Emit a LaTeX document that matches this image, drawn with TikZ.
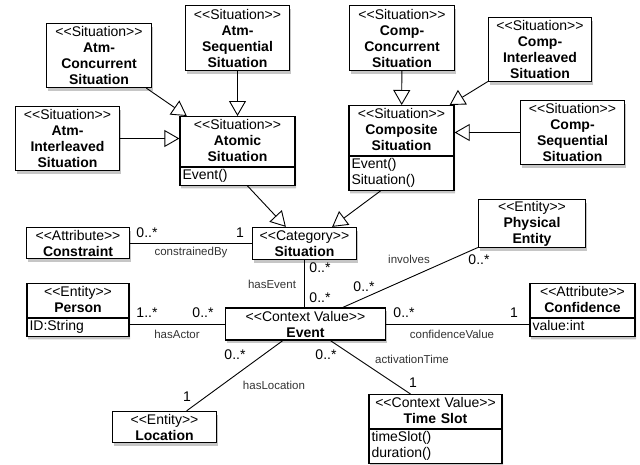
\documentclass[tikz,border=0pt]{standalone}
\usepackage{fontspec}
\setmainfont{Liberation Sans}
\usetikzlibrary{calc, arrows.meta, shapes.multipart, shadows}

\newcommand{\stereo}[1]{<{}<#1>{}>}
\newcommand{\members}[1]{\parbox{\hsize}{\raggedright\strut #1\strut}}

\begin{document}
\begin{tikzpicture}[x=1pt,y=-1pt,
	box/.style={draw, line width=1.3pt, fill=white, align=center, inner sep=1pt, font=\fontsize{14}{16}\selectfont, drop shadow={shadow xshift=1.2pt, shadow yshift=-3pt, opacity=.45}},
	cls/.style={box, minimum width=#1},
	splitcls/.style={box, rectangle split, rectangle split parts=2, text width=#1, inner xsep=2.5pt, inner ysep=0.5pt},
	gen/.style={line width=0.9pt, -{Triangle[length=15pt, width=17pt, fill=white, line width=0.9pt]}},
	assoc/.style={line width=0.9pt},
	mult/.style={font=\fontsize{14}{16}\selectfont, inner sep=0pt},
	role/.style={font=\fontsize{11.5}{13}\selectfont, text=black!80, inner sep=0pt}]
	\useasboundingbox (0,0) rectangle (640,464);

	% situation hierarchy
	\node[cls=105pt, minimum height=64pt] (atmconc) at (99,55.5) {\stereo{Situation}\\\textbf{Atm-}\\\textbf{Concurrent}\\\textbf{Situation}};
	\node[cls=104pt, minimum height=65pt] (atmseq) at (237.5,38) {\stereo{Situation}\\\textbf{Atm-}\\\textbf{Sequential}\\\textbf{Situation}};
	\node[cls=104pt, minimum height=64pt] (atminter) at (67.5,138.5) {\stereo{Situation}\\\textbf{Atm-}\\\textbf{Interleaved}\\\textbf{Situation}};
	\node[splitcls=110pt, anchor=north] (atomic) at (237.5,116) {\strut\stereo{Situation}\\\textbf{Atomic}\\\textbf{Situation}\strut\nodepart{two}\members{Event()}};
	\node[cls=105pt, minimum height=65pt] (compconc) at (402,38) {\stereo{Situation}\\\textbf{Comp-}\\\textbf{Concurrent}\\\textbf{Situation}};
	\node[cls=103pt, minimum height=64pt] (compinter) at (540,49.5) {\stereo{Situation}\\\textbf{Comp-}\\\textbf{Interleaved}\\\textbf{Situation}};
	\node[splitcls=100pt, anchor=north] (composite) at (401.5,105) {\strut\stereo{Situation}\\\textbf{Composite}\\\textbf{Situation}\strut\nodepart{two}\members{Event()\\Situation()}};
	\node[cls=104pt, minimum height=64pt] (compseq) at (572.5,132.5) {\stereo{Situation}\\\textbf{Comp-}\\\textbf{Sequential}\\\textbf{Situation}};

	% context model
	\node[cls=103pt, minimum height=31pt] (constraint) at (78,243) {\stereo{Attribute}\\\textbf{Constraint}};
	\node[cls=104pt, minimum height=32pt] (situation) at (304.5,243.5) {\stereo{Category}\\\textbf{Situation}};
	\node[splitcls=97pt, anchor=north] (person) at (78,283) {\strut\stereo{Entity}\\\textbf{Person}\strut\nodepart{two}\members{ID:String}};
	\node[cls=107pt, minimum height=48pt] (physical) at (532,223.5) {\stereo{Entity}\\\textbf{Physical}\\\textbf{Entity}};
	\node[splitcls=100pt, anchor=north] (confidence) at (582.5,283) {\strut\stereo{Attribute}\\\textbf{Confidence}\strut\nodepart{two}\members{value:int}};
	\node[cls=160pt, minimum height=32pt] (event) at (305.5,324) {\stereo{Context Value}\\\textbf{Event}};
	\node[cls=104pt, minimum height=31pt] (location) at (164.5,427) {\stereo{Entity}\\\textbf{Location}};
	\node[splitcls=128pt, anchor=north] (timeslot) at (435.5,394) {\strut\stereo{Context Value}\\\textbf{Time Slot}\strut\nodepart{two}\members{timeSlot()\\duration()}};

	% generalizations
	\draw[gen] (atmconc) -- (atomic);
	\draw[gen] (atmseq) -- (atomic);
	\draw[gen] (atminter.east) -- (atminter.east -| atomic.west);
	\draw[gen] (compconc) -- (composite);
	\draw[gen] (compinter) -- ($(composite.north east)+(-5,0)$);
	\draw[gen] (compseq.west) -- (compseq.west -| composite.east);
	\draw[gen] ($(atomic.south)+(10,0)$) -- ($(situation.north west)+(34,0)$);
	\draw[gen] ($(composite.south)+(-21,0)$) -- ($(situation.north east)+(-25,0)$);

	% associations
	\draw[assoc] (constraint.east) -- (constraint.east -| situation.west);
	\draw[assoc] (situation.south) -- (situation.south |- event.north);
	\draw[assoc] (event.west) -- (event.west -| person.east);
	\draw[assoc] (event.east) -- (event.east -| confidence.west);
	\draw[assoc] (event) -- (physical);
	\draw[assoc] (event) -- (location);
	\draw[assoc] ($(event.south)+(25,0)$) -- ($(timeslot.north)+(-25,0)$);

	% multiplicities and roles
	\node[mult] (mconstr) at (147,233) {0..*};
	\node[mult] (msitc) at (240,233) {1};
	\node[role] (rconstr) at (191,253) {constrainedBy};
	\node[mult] (msitev) at (320,268) {0..*};
	\node[mult] (mevsit) at (320,298) {0..*};
	\node[role] (rhasev) at (272,284) {hasEvent};
	\node[mult] (mperson) at (147,313) {1..*};
	\node[mult] (mevpers) at (203,313) {0..*};
	\node[role] (ractor) at (177,334) {hasActor};
	\node[mult] (mevconf) at (404,313) {0..*};
	\node[mult] (mconf) at (514,313) {1};
	\node[role] (rconf) at (452,334) {confidenceValue};
	\node[mult] (mevphys) at (364,287) {0..*};
	\node[mult] (mphys) at (479,260) {0..*};
	\node[role] (rinvolves) at (409,259) {involves};
	\node[mult] (mevloc) at (235,355) {0..*};
	\node[mult] (mloc) at (187,397) {1};
	\node[role] (rloc) at (274,385) {hasLocation};
	\node[mult] (mevtime) at (326,355) {0..*};
	\node[mult] (mtime) at (413,383) {1};
	\node[role] (rtime) at (412,359) {activationTime};
\end{tikzpicture}
\end{document}
